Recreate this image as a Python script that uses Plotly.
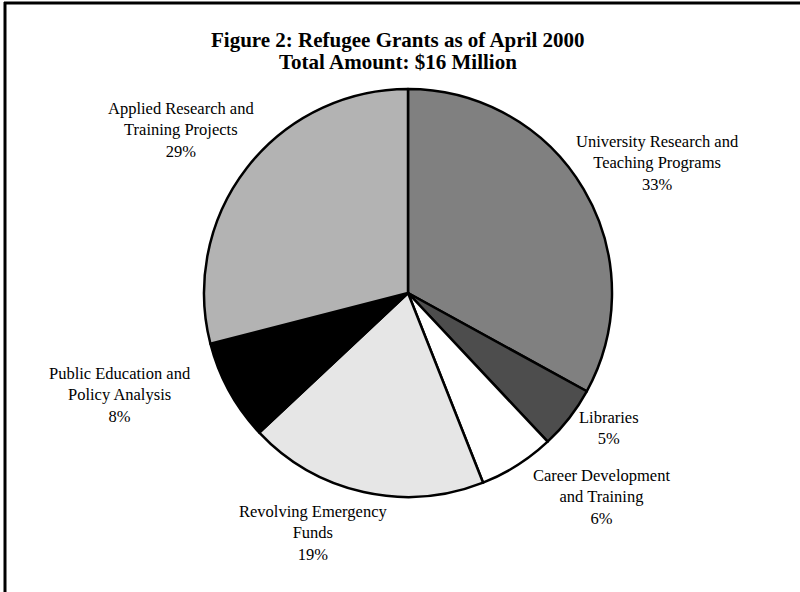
import plotly.graph_objects as go

categories = [
    "University Research and<br>Teaching Programs",
    "Libraries",
    "Career Development<br>and Training",
    "Revolving Emergency<br>Funds",
    "Public Education and<br>Policy Analysis",
    "Applied Research and<br>Training Projects",
]
values = [33, 5, 6, 19, 8, 29]
colors = ["#808080", "#4d4d4d", "#ffffff", "#e6e6e6", "#000000", "#b3b3b3"]
# label centres in pixels (x, y from top)
label_pos = [(657, 163), (609, 428), (601, 497), (313, 533), (120, 395), (181, 130)]
title_lines = ["Figure 2: Refugee Grants as of April 2000", "Total Amount: $16 Million"]
title_y = [40, 62]

W, H = 800, 592
cx, cy, r = 408, 293, 204
FONT = "Liberation Serif"

fig = go.Figure()
fig.add_trace(go.Pie(
    labels=categories,
    values=values,
    sort=False,
    direction="clockwise",
    rotation=0,
    marker=dict(colors=colors, line=dict(color="#000000", width=2.5)),
    textinfo="none",
    hoverinfo="skip",
    showlegend=False,
    domain=dict(x=[(cx - r) / W, (cx + r) / W], y=[(H - cy - r) / H, (H - cy + r) / H]),
))

annotations = []
for lab, v, (px, py) in zip(categories, values, label_pos):
    annotations.append(dict(
        text=f"{lab}<br>{v}%",
        x=px / W, y=1 - py / H, xref="paper", yref="paper",
        xanchor="center", yanchor="middle", showarrow=False,
        font=dict(family=FONT, size=16.5, color="#000000"),
    ))
for t, ty in zip(title_lines, title_y):
    annotations.append(dict(
        text=f"<b>{t}</b>",
        x=398 / W, y=1 - ty / H, xref="paper", yref="paper",
        xanchor="center", yanchor="middle", showarrow=False,
        font=dict(family=FONT, size=21, color="#000000"),
    ))

fig.update_layout(
    width=W, height=H,
    margin=dict(l=0, r=0, t=0, b=0),
    paper_bgcolor="white", plot_bgcolor="white",
    annotations=annotations,
    shapes=[
        dict(type="line", xref="paper", yref="paper", x0=4 / W, x1=1, y0=1 - 3 / H, y1=1 - 3 / H,
             line=dict(color="#000000", width=3)),
        dict(type="line", xref="paper", yref="paper", x0=5 / W, x1=5 / W, y0=0, y1=1 - 2 / H,
             line=dict(color="#000000", width=3)),
    ],
)

fig.write_html(
    "out.html",
    config={"displayModeBar": False, "staticPlot": True},
    post_script="document.body.style.margin='0';document.body.style.overflow='hidden';",
)
